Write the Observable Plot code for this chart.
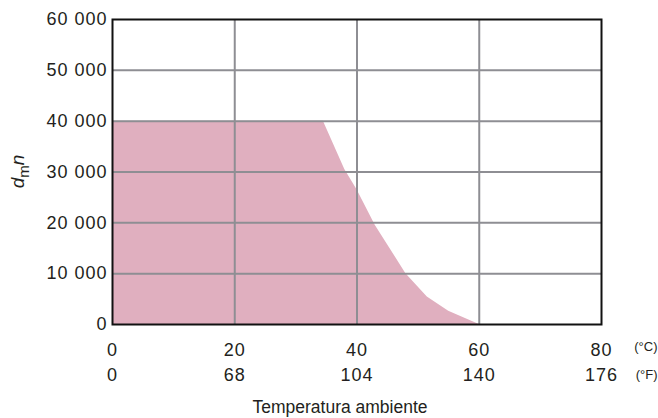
<!DOCTYPE html>
<html><head><meta charset="utf-8">
<script src="https://cdn.jsdelivr.net/npm/d3@7"></script>
<script src="https://cdn.jsdelivr.net/npm/@observablehq/plot@0.6"></script>
<style>
body{margin:0;background:#fff;overflow:hidden}
svg{display:block}
svg text{letter-spacing:1px}
</style>
</head><body><div id="chart"></div>
<script>
// Data
const tempC = [0, 34.5, 38, 40, 43, 48, 51.5, 55, 60];
const dmn   = [40000, 40000, 30500, 26500, 19500, 10000, 5400, 2600, 0];
const xTicksC = [0, 20, 40, 60, 80];
const xTicksF = ["0", "68", "104", "140", "176"];
const yTicks = [0, 10000, 20000, 30000, 40000, 50000, 60000];
const xTitle = "Temperatura ambiente";
const unitC = "(°C)";
const unitF = "(°F)";

const curve = tempC.map((t, i) => ({t, v: dmn[i]}));
const fRow = xTicksC.map((c, i) => ({c, f: xTicksF[i]}));
const fmt = v => d3.format(",")(v).replace(/,/g, " ");

const font = "'Liberation Sans', Arial, Helvetica, sans-serif";
const ink = "#231f20";

const plot = Plot.plot({
  width: 658,
  height: 418,
  marginLeft: 112,
  marginRight: 57,
  marginTop: 19,
  marginBottom: 94,
  style: {fontFamily: font, fontSize: "18px", color: ink, background: "#fff"},
  x: {domain: [0, 80]},
  y: {domain: [0, 60000]},
  marks: [
    Plot.areaY(curve, {x: "t", y: "v", fill: "#e0afbf"}),
    Plot.gridX(xTicksC.slice(1, -1), {stroke: "#8e8e93", strokeWidth: 2, strokeOpacity: 1}),
    Plot.gridY(yTicks.slice(1, -1), {stroke: "#8e8e93", strokeWidth: 2, strokeOpacity: 1}),
    Plot.frame({stroke: "#111", strokeWidth: 2}),
    Plot.axisY(yTicks, {tickSize: 0, tickPadding: 5, tickFormat: fmt, label: null, fontSize: 18}),
    Plot.axisX(xTicksC, {tickSize: 0, tickPadding: 19, label: null, fontSize: 18}),
    Plot.text(fRow, {x: "c", text: "f", frameAnchor: "bottom", dy: 56, fontSize: 18, fill: ink}),
    Plot.text([unitC], {frameAnchor: "bottom-right", dx: 56, dy: 26, fontSize: 13, fill: ink, className: "nospace"}),
    Plot.text([unitF], {frameAnchor: "bottom-right", dx: 56, dy: 54, fontSize: 13, fill: ink, className: "nospace"}),
    Plot.text([xTitle], {frameAnchor: "bottom", dx: -17, dy: 88, fontSize: 17.5, fill: ink, className: "nospace"})
  ]
});
document.getElementById("chart").append(plot);
d3.select(plot).selectAll(".nospace text").style("letter-spacing", "0px");

// y-axis label d_m n with subscript, rotated
const svg = d3.select(plot);
const lbl = svg.append("text")
  .attr("transform", `translate(24, ${(19 + 324) / 2}) rotate(-90)`)
  .attr("text-anchor", "middle")
  .attr("font-family", font)
  .attr("font-size", 19)
  .attr("fill", ink)
  .style("letter-spacing", "0px");
lbl.append("tspan").attr("font-style", "italic").text("d");
lbl.append("tspan").attr("font-size", 15).attr("dy", 5).text("m");
lbl.append("tspan").attr("font-style", "italic").attr("dy", -5).text("n");
</script>
</body></html>
